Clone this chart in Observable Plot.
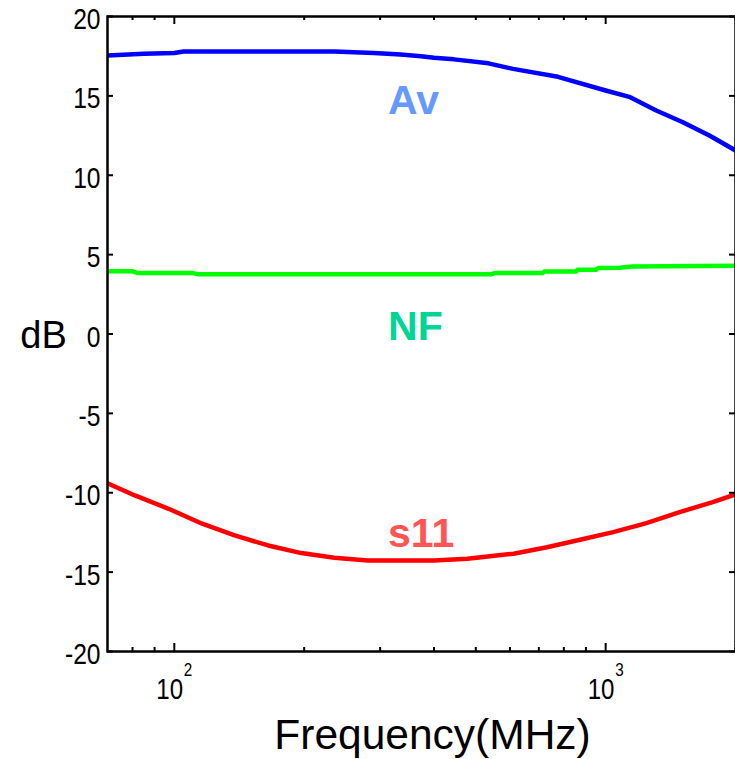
<!DOCTYPE html>
<html><head><meta charset="utf-8">
<script src="https://cdn.jsdelivr.net/npm/d3@7"></script>
<script src="https://cdn.jsdelivr.net/npm/@observablehq/plot@0.6"></script>
<style>html,body{margin:0;padding:0;background:#fff;overflow:hidden}</style>
</head><body><div id="chart"></div>
<script>
// Av (voltage gain), dB
const avFreq = [70, 85, 100, 105, 150, 235, 290, 335, 373, 400, 445, 535, 610, 775, 1000, 1140, 1310, 1510, 1740, 2000];
const avDb   = [17.55, 17.65, 17.7, 17.8, 17.8, 17.8, 17.7, 17.6, 17.5, 17.4, 17.3, 17.05, 16.7, 16.2, 15.34, 14.92, 14.08, 13.34, 12.5, 11.56];
// NF (noise figure), dB
const nfFreq = [70, 80, 82, 110, 113, 545, 555, 715, 720, 855, 860, 950, 960, 1080, 1150, 2000];
const nfDb   = [3.95, 3.95, 3.85, 3.85, 3.77, 3.77, 3.85, 3.85, 3.93, 3.93, 4.04, 4.04, 4.15, 4.17, 4.25, 4.3];
// s11, dB
const s11Freq = [70, 81, 97, 116, 138, 165, 197, 235, 281, 400, 478, 520, 612, 731, 872, 1041, 1243, 1484, 1771, 2000];
const s11Db   = [-9.4, -10.17, -11.01, -11.95, -12.69, -13.32, -13.8, -14.09, -14.27, -14.27, -14.16, -14.05, -13.84, -13.43, -12.96, -12.48, -11.91, -11.22, -10.59, -10.11];

const yTicks = [-20, -15, -10, -5, 0, 5, 10, 15, 20];
const yTickLabels = ["-20", "-15", "-10", "-5", "0", "5", "10", "15", "20"];
const xMajor = [100, 1000];
const xMajorBase = ["10", "10"];
const xMajorExp = ["2", "3"];
const xMinor = [80, 90, 200, 300, 400, 500, 600, 700, 800, 900, 2000];

const seriesNames = ["Av", "NF", "s11"];
const seriesLabelFreq = [313, 313, 313];
const seriesLabelDb = [14.7, 0.45, -12.6];
const seriesLabelColors = ["#6699ff", "#00d596", "#ff5555"];

const xTitle = "Frequency(MHz)";
const yTitle = "dB";

const W = 735, H = 759, ML = 107, MR = 0, MT = 16, MB = 108;
const FW = W - ML - MR, FH = H - MT - MB;
const sans = "'Liberation Sans', Arial, Helvetica, sans-serif";

const rows = (fs, vs) => fs.map((f, i) => ({f, db: vs[i]}));
const labels = seriesNames.map((n, i) => ({n, f: seriesLabelFreq[i], db: seriesLabelDb[i], c: seriesLabelColors[i]}));

const chart = Plot.plot({
  width: W, height: H,
  marginLeft: ML, marginRight: MR, marginTop: MT, marginBottom: MB,
  x: {type: "log", domain: [70, 2000], axis: null},
  y: {domain: [-20, 20], axis: null},
  marks: [
    Plot.line(rows(avFreq, avDb), {x: "f", y: "db", stroke: "#0000ff", strokeWidth: 4.5, clip: true}),
    Plot.line(rows(nfFreq, nfDb), {x: "f", y: "db", stroke: "#00ff00", strokeWidth: 4.5, clip: true}),
    Plot.line(rows(s11Freq, s11Db), {x: "f", y: "db", stroke: "#ff0000", strokeWidth: 4.5, clip: true}),
    // inward ticks
    Plot.ruleX(xMajor, {x: d => d, insetTop: FH - 8, stroke: "black", strokeWidth: 2}),
    Plot.ruleX(xMajor, {x: d => d, insetBottom: FH - 8, stroke: "black", strokeWidth: 2}),
    Plot.ruleX(xMinor, {x: d => d, insetTop: FH - 4, stroke: "black", strokeWidth: 2}),
    Plot.ruleX(xMinor, {x: d => d, insetBottom: FH - 4, stroke: "black", strokeWidth: 2}),
    Plot.ruleY(yTicks, {y: d => d, insetRight: FW - 6, stroke: "black", strokeWidth: 2}),
    Plot.ruleY(yTicks, {y: d => d, insetLeft: FW - 6, stroke: "black", strokeWidth: 2}),
    Plot.frame({stroke: "black", strokeWidth: 2.5}),
    // y tick labels
    Plot.text(yTicks, {y: d => d, text: (d, i) => yTickLabels[i], frameAnchor: "left", textAnchor: "end", dx: -7, dy: 3, fontSize: 30, fontFamily: sans, fill: "black"}),
    // x tick labels 10^n (exponent added as a superscript tspan below)
    Plot.text(xMajor, {x: d => d, text: (d, i) => xMajorBase[i], frameAnchor: "bottom", textAnchor: "middle", lineAnchor: "bottom", dx: 0, dy: 47, fontSize: 30, fontFamily: sans, fill: "black"}),
    // series labels
    Plot.text(labels, {x: "f", y: "db", text: "n", fill: "c", textAnchor: "start", fontSize: 41, fontWeight: "bold", fontFamily: sans}),
    // axis titles
    Plot.text([xTitle], {text: d => d, frameAnchor: "bottom", textAnchor: "middle", lineAnchor: "bottom", dx: 11, dy: 97, fontSize: 42.5, fontFamily: sans, fill: "black"}),
    Plot.text([yTitle], {text: d => d, frameAnchor: "left", textAnchor: "middle", dx: -64, dy: 2, fontSize: 38, fontFamily: sans, fill: "black"})
  ]
});
document.getElementById("chart").appendChild(chart);

const SVGNS = "http://www.w3.org/2000/svg";
const textGroups = chart.querySelectorAll('g[aria-label="text"]');
// superscript exponents on the x tick labels
if (textGroups[1]) {
  textGroups[1].querySelectorAll("text").forEach((t, i) => {
    const sup = document.createElementNS(SVGNS, "tspan");
    sup.setAttribute("dy", "-23");
    sup.setAttribute("dx", "1");
    sup.setAttribute("font-size", "19");
    sup.textContent = xMajorExp[i];
    t.appendChild(sup);
  });
}
// tick labels in the reference use a narrow face: compress them horizontally
[0, 1].forEach(gi => {
  const g = textGroups[gi];
  if (!g) return;
  g.querySelectorAll("text").forEach(t => {
    const w = t.getComputedTextLength();
    if (w > 0) {
      t.setAttribute("textLength", (w * 0.82).toFixed(2));
      t.setAttribute("lengthAdjust", "spacingAndGlyphs");
    }
  });
});
</script>
</body></html>
